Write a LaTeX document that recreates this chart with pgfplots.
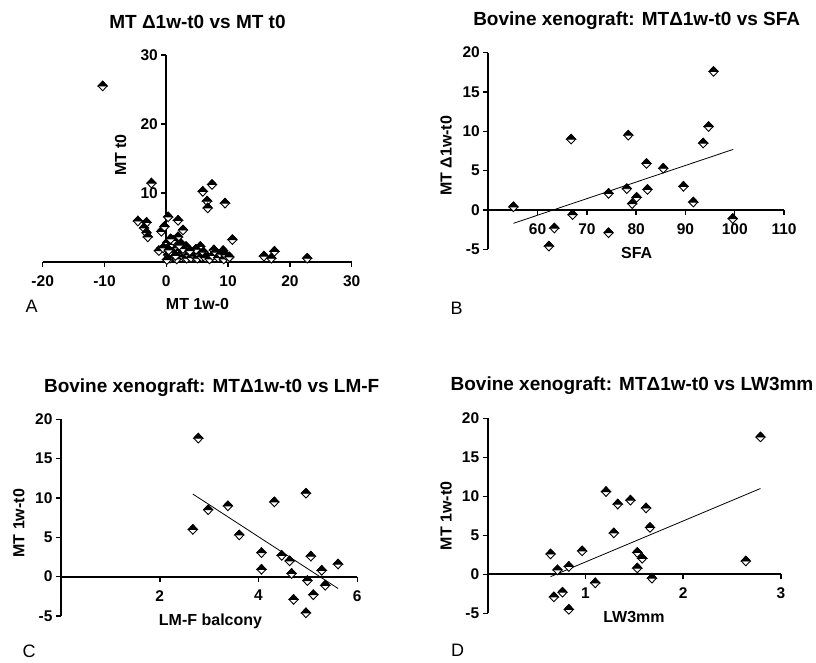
\documentclass[border=0pt]{standalone}
\usepackage{fontspec}
\setmainfont{Liberation Sans}
\usepackage{pgfplots}
\pgfplotsset{compat=1.18}

% diamond with dark upper half, as in the GraphPad export
\pgfdeclareplotmark{hdiamond}{%
  \pgfpathmoveto{\pgfqpoint{0pt}{\pgfplotmarksize}}%
  \pgfpathlineto{\pgfqpoint{0.95\pgfplotmarksize}{0pt}}%
  \pgfpathlineto{\pgfqpoint{0pt}{-\pgfplotmarksize}}%
  \pgfpathlineto{\pgfqpoint{-0.95\pgfplotmarksize}{0pt}}%
  \pgfpathclose
  \pgfusepathqfillstroke
  \begin{pgfscope}%
  \pgfsetfillcolor{black}%
  \pgfpathmoveto{\pgfqpoint{0pt}{\pgfplotmarksize}}%
  \pgfpathlineto{\pgfqpoint{0.95\pgfplotmarksize}{0pt}}%
  \pgfpathlineto{\pgfqpoint{-0.95\pgfplotmarksize}{0pt}}%
  \pgfpathclose
  \pgfusepathqfillstroke
  \end{pgfscope}%
}

\pgfplotsset{
  gp/.style={
    scale only axis, clip=false,
    hide obscured x ticks=false, hide obscured y ticks=false,
    tick label style={font=\fontsize{15.5}{16}\selectfont\bfseries},
    xticklabel style={yshift=-5pt},
    /pgf/number format/assume math mode=true,
  },
  gpend/.style={
    axis line style={-, line width=1.8pt},
    tick style={line width=1.5pt, black},
    major tick length=5pt,
    tick align=outside,
  },
  pts/.style={only marks, mark=hdiamond, mark size=4.8pt,
    mark options={fill=white, draw=black, line width=0.9pt}},
  fit/.style={no marks, black, line width=0.8pt},
}
\newcommand{\ttl}{\fontsize{19}{21}\selectfont\bfseries}
\newcommand{\lbl}{\fontsize{16}{17}\selectfont\bfseries}
\newcommand{\pan}{\fontsize{18}{20}\selectfont}

\begin{document}
\begin{tikzpicture}[x=1pt,y=1pt]
\useasboundingbox (0,0) rectangle (816,662);

% A
\begin{axis}[gp, at={(42.7pt,400.3pt)}, anchor=south west,
  width=309pt, height=206.7pt,
  xmin=-20, xmax=30, ymin=0, ymax=30,
  axis x line*=bottom, axis y line*=middle, gpend,
  xtick={-20,-10,0,10,20,30}, ytick={10,20,30}]
\addplot[pts] coordinates {
(-10.3,25.5)(-2.4,11.4)(-4.6,5.9)(-3.2,5.7)(-3.6,4.9)(-3.2,4.2)(-3.0,3.6)
(0.3,6.5)(1.9,6.0)(2.7,4.6)(1.9,3.6)(-0.8,4.4)(-0.3,5.1)
(5.9,10.2)(7.4,11.2)(6.6,8.8)(6.7,7.8)(9.5,8.5)(10.7,3.2)
(-1.2,1.6)(5.5,2.2)(7.7,1.7)(9.2,1.6)(10.0,0.5)(6.7,0.6)
(15.8,0.8)(17.5,1.5)(17.0,0.5)(22.8,0.5)
(0.2,2.8)(0.5,2.2)(0.8,1.9)(1.0,2.5)(1.2,1.5)(1.4,2.9)(1.6,1.2)(1.8,2.0)
(2.0,0.8)(2.2,1.6)(0.3,1.0)(0.6,0.5)(0.9,1.3)(1.3,0.6)(1.7,0.4)(2.5,1.2)
(2.8,0.7)(3.0,1.4)(3.3,0.5)(3.6,1.0)(4.0,0.6)(4.3,1.3)(4.6,0.8)(5.0,0.5)
(5.3,1.1)(5.7,0.7)(6.0,1.4)(6.3,0.6)(7.0,0.4)(7.5,0.9)(8.0,1.4)(8.4,0.6)
(8.8,1.1)(9.3,0.4)(9.6,1.0)(10.2,0.7)(-0.5,2.0)(0.1,0.3)(2.4,2.6)(3.2,2.2)
(1.1,3.1)(4.8,1.8)(0.4,1.7)(1.5,0.9)(2.7,1.9)(3.8,1.6)(0.7,3.3)(2.1,2.4)
};
\end{axis}

% B
\begin{axis}[gp, at={(488.3pt,412.7pt)}, anchor=south west,
  width=295.7pt, height=196.7pt,
  xmin=50, xmax=110, ymin=-5, ymax=20,
  axis x line*=middle, axis y line*=left, gpend,
  xtick={60,70,80,90,100,110}, ytick={-5,0,5,10,15,20}]
\addplot[pts] coordinates {
(55.1,0.4)(62.3,-4.6)(63.4,-2.3)(66.8,9.0)(67.1,-0.6)(74.4,2.1)(74.4,-2.9)
(78.1,2.7)(78.4,9.5)(79.2,0.8)(80.1,1.6)(82.1,5.9)(82.3,2.6)(85.5,5.3)
(89.6,3.0)(91.6,1.0)(93.6,8.5)(94.7,10.6)(95.7,17.6)(99.6,-1.1)
};
\addplot[fit] coordinates {(55.1,-1.7)(99.7,7.7)};
\end{axis}

% C
\begin{axis}[gp, at={(61pt,46pt)}, anchor=south west,
  width=296.3pt, height=196.7pt,
  xmin=0, xmax=6, ymin=-5, ymax=20,
  axis x line*=middle, axis y line*=left, gpend,
  xtick={2,4,6}, ytick={-5,0,5,10,15,20}]
\addplot[pts] coordinates {
(2.78,17.6)(2.67,6.0)(2.98,8.5)(3.38,9.0)(3.61,5.3)(4.06,3.05)(4.06,0.93)
(4.32,9.5)(4.47,2.7)(4.63,2.0)(4.67,0.4)(4.71,-2.9)(4.96,10.6)(4.96,-4.6)
(4.99,-0.5)(5.06,2.6)(5.11,-2.3)(5.28,0.8)(5.35,-1.1)(5.61,1.6)
};
\addplot[fit] coordinates {(2.67,10.5)(5.61,-1.5)};
\end{axis}

% D
\begin{axis}[gp, at={(487.7pt,48.7pt)}, anchor=south west,
  width=293.3pt, height=195pt,
  xmin=0, xmax=3, ymin=-5, ymax=20,
  axis x line*=middle, axis y line*=left, gpend,
  xtick={1,2,3}, ytick={-5,0,5,10,15,20}]
\addplot[pts] coordinates {
(0.643,2.6)(0.677,-2.9)(0.714,0.56)(0.765,-2.3)(0.83,1.0)(0.83,-4.5)
(0.966,3.0)(1.10,-1.1)(1.21,10.6)(1.29,5.3)(1.33,9.0)(1.46,9.5)(1.53,2.8)
(1.53,0.8)(1.58,2.05)(1.62,8.5)(1.66,6.0)(1.68,-0.5)(2.64,1.7)(2.79,17.6)
};
\addplot[fit] coordinates {(0.643,-0.3)(2.79,11.0)};
\end{axis}

% titles, labels, panel letters
\node[font=\ttl] at (197.5,640.3) {MT Δ1w-t0 vs MT t0};
\node[font=\ttl] at (636.7,641) {Bovine xenograft: MTΔ1w-t0 vs SFA};
\node[font=\ttl] at (211.7,274.5) {Bovine xenograft: MTΔ1w-t0 vs LM-F};
\node[font=\ttl] at (632,276.2) {Bovine xenograft: MTΔ1w-t0 vs LW3mm};

\node[font=\lbl] at (197.5,358) {MT 1w-0};
\node[font=\lbl, rotate=90] at (120.5,507) {MT t0};
\node[font=\lbl] at (636.7,408.7) {SFA};
\node[font=\lbl, rotate=90] at (446,506.2) {MT Δ1w-t0};
\node[font=\lbl] at (210.5,41) {LM-F balcony};
\node[font=\lbl, rotate=90] at (18.8,138.7) {MT 1w-t0};
\node[font=\lbl] at (634,44.5) {LW3mm};
\node[font=\lbl, rotate=90] at (446,146.2) {MT 1w-t0};

\node[font=\pan] at (31.7,355.3) {A};
\node[font=\pan] at (456.7,353.7) {B};
\node[font=\pan] at (29,11) {C};
\node[font=\pan] at (457.5,11.5) {D};
\end{tikzpicture}
\end{document}
